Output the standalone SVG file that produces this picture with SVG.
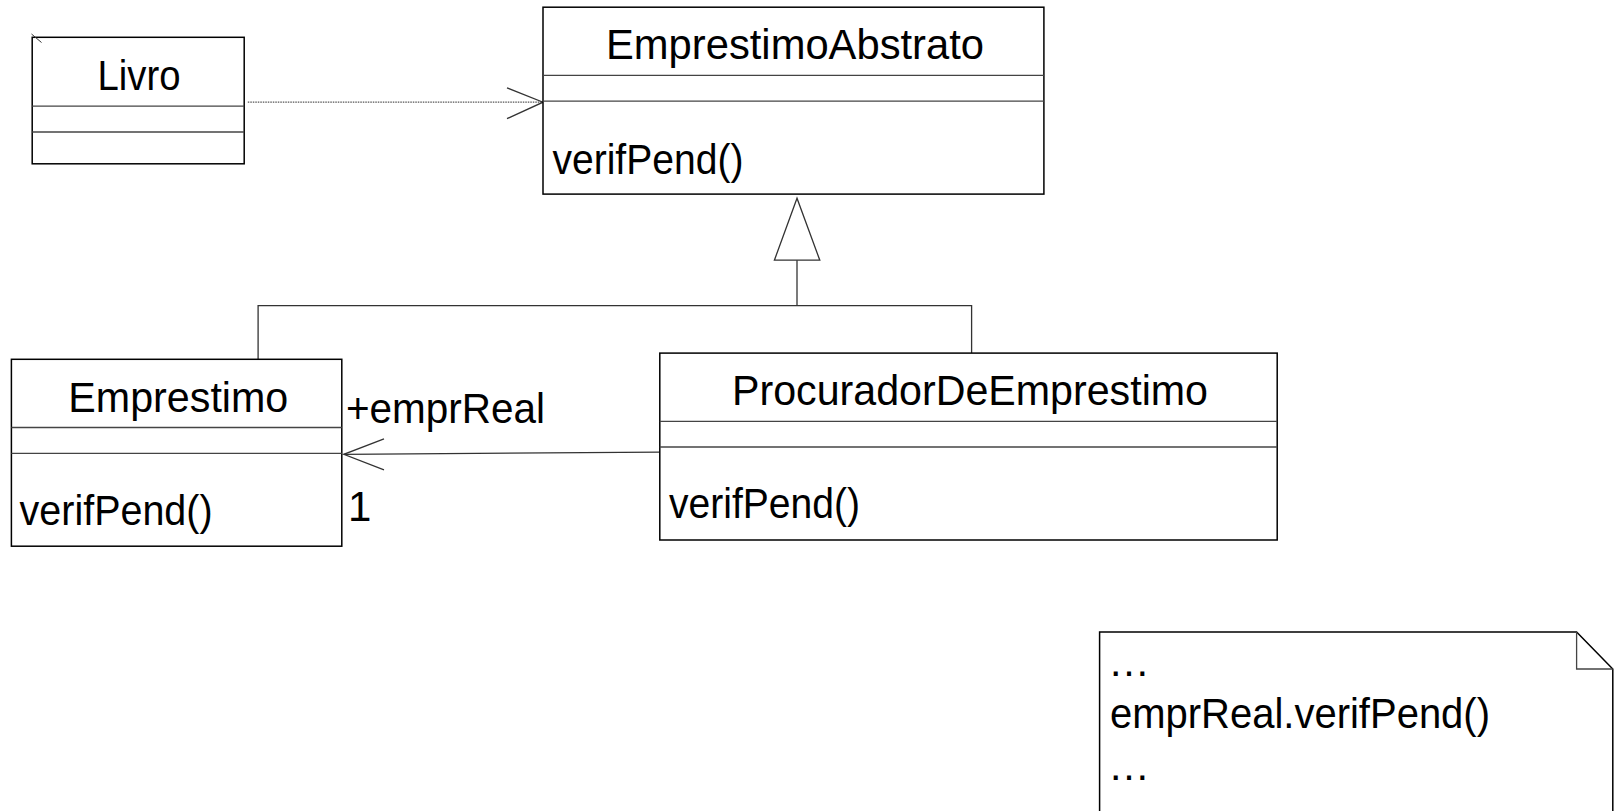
<svg xmlns="http://www.w3.org/2000/svg" width="1619" height="811" viewBox="0 0 1619 811">
<style>
.box{fill:#fff;stroke:#000;stroke-width:1.5}
.div{stroke:#444;stroke-width:1.3;fill:none}
.t{font-family:"Liberation Sans",Arial,sans-serif;font-size:42px;fill:#000}
.c{text-anchor:middle}
.conn{stroke:#333;stroke-width:1.3;fill:none}
.dot{stroke:#555;stroke-width:1.3;stroke-dasharray:1.5 1;fill:none}
</style>
<rect width="1619" height="811" fill="#fff"/>
<g id="connectors">
  <line class="dot" x1="247.8" y1="102.2" x2="543" y2="102.2"/>
  <polyline class="conn" points="507,87.8 543,102.2 507,118.7"/>
  <polygon points="797,198.2 774.4,260.2 819.8,260.2" fill="#fff" stroke="#333" stroke-width="1.3"/>
  <polyline class="conn" points="797,260.2 797,305.6"/>
  <polyline class="conn" points="258.1,359.3 258.1,305.6 971.6,305.6 971.6,353.1"/>
  <line class="conn" x1="659.8" y1="452.2" x2="343.8" y2="454.3"/>
  <polyline class="conn" points="384,438.8 343.8,454.3 384,469.8"/>
  <text class="t" x="345.9" y="423.3" textLength="199" lengthAdjust="spacingAndGlyphs">+emprReal</text>
  <text class="t" x="348" y="521.4">1</text>
</g>
<g id="Livro">
  <rect class="box" x="32.2" y="37.3" width="212" height="126.5"/>
  <line class="div" x1="32.2" y1="106.2" x2="244.2" y2="106.2"/>
  <line class="div" x1="32.2" y1="132" x2="244.2" y2="132"/>
  <line stroke="#333" stroke-width="1" x1="31.5" y1="34" x2="41.5" y2="42.5"/>
  <text class="t c" x="139" y="89.5" textLength="83" lengthAdjust="spacingAndGlyphs">Livro</text>
</g>
<g id="EmprestimoAbstrato">
  <rect class="box" x="543" y="7.2" width="500.9" height="186.9"/>
  <line class="div" x1="543" y1="75.4" x2="1043.9" y2="75.4"/>
  <line class="div" x1="543" y1="101.2" x2="1043.9" y2="101.2"/>
  <text class="t c" x="795" y="59" textLength="378" lengthAdjust="spacingAndGlyphs">EmprestimoAbstrato</text>
  <text class="t" x="552.4" y="173.5" textLength="191" lengthAdjust="spacingAndGlyphs">verifPend()</text>
</g>
<g id="Emprestimo">
  <rect class="box" x="11.4" y="359.3" width="330.4" height="186.9"/>
  <line class="div" x1="11.4" y1="427.5" x2="341.8" y2="427.5"/>
  <line class="div" x1="11.4" y1="453.3" x2="341.8" y2="453.3"/>
  <text class="t c" x="178.3" y="411.5" textLength="220" lengthAdjust="spacingAndGlyphs">Emprestimo</text>
  <text class="t" x="19.6" y="524.5" textLength="193" lengthAdjust="spacingAndGlyphs">verifPend()</text>
</g>
<g id="ProcuradorDeEmprestimo">
  <rect class="box" x="659.8" y="353.1" width="617.4" height="186.9"/>
  <line class="div" x1="659.8" y1="421.3" x2="1277.2" y2="421.3"/>
  <line class="div" x1="659.8" y1="447" x2="1277.2" y2="447"/>
  <text class="t c" x="970" y="404.7" textLength="476" lengthAdjust="spacingAndGlyphs">ProcuradorDeEmprestimo</text>
  <text class="t" x="669" y="518.3" textLength="191" lengthAdjust="spacingAndGlyphs">verifPend()</text>
</g>
<g id="note">
  <path class="box" d="M1099.6,831 V631.9 H1576.6 L1612.8,669 V831"/>
  <polyline class="div" points="1576.6,631.9 1576.6,669 1612.8,669"/>
  <text class="t" x="1108" y="676">…</text>
  <text class="t" x="1110" y="728" textLength="380" lengthAdjust="spacingAndGlyphs">emprReal.verifPend()</text>
  <text class="t" x="1108" y="779.5">…</text>
</g>
</svg>
